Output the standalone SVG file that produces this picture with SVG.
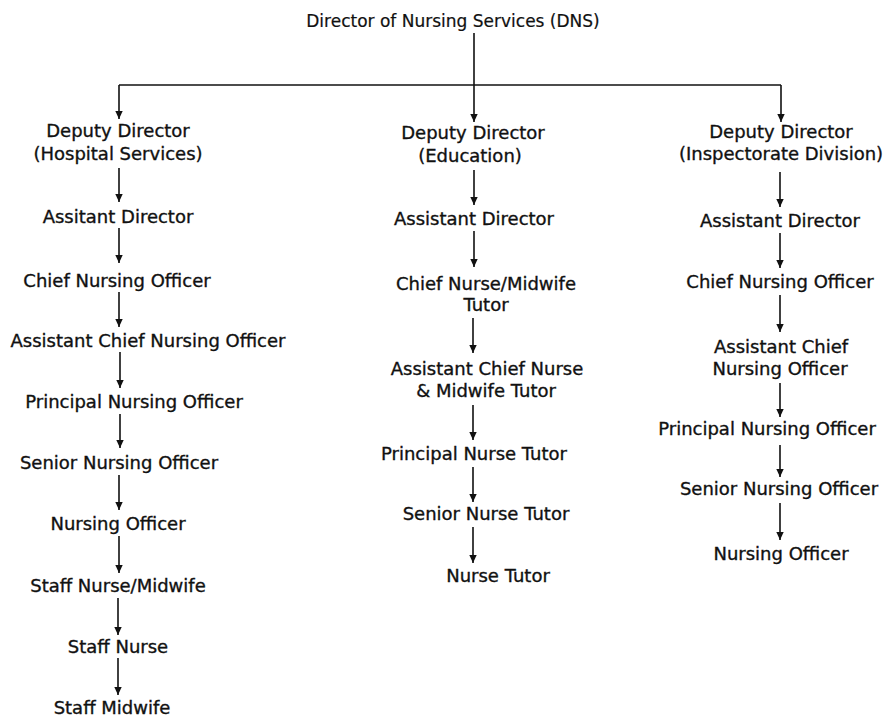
<svg xmlns="http://www.w3.org/2000/svg" width="889" height="720" viewBox="0 0 889 720">
<defs>
<marker id="ah" viewBox="0 0 8 9" refX="8" refY="4.5" markerWidth="8" markerHeight="9" markerUnits="userSpaceOnUse" orient="auto">
<path d="M0,0.8 L8,4.5 L0,8.2 z" fill="#111"/>
</marker>
<style>
text{font-family:"DejaVu Sans","Liberation Sans",sans-serif;font-size:18px;fill:#111;stroke:#111;stroke-width:0.35;text-anchor:middle}
#dns text{font-size:17px;stroke-width:0.2}
.c line{stroke:#111;stroke-width:1.6;fill:none}
.c .a{marker-end:url(#ah)}
</style>
</defs>
<rect width="889" height="720" fill="#fff"/>
<g id="dns"><text x="453" y="27">Director of Nursing Services (DNS)</text></g>

<g id="h-dd"><text x="118" y="137">Deputy Director</text><text x="118" y="160">(Hospital Services)</text></g>
<g id="h-ad"><text x="118" y="223">Assitant Director</text></g>
<g id="h-cno"><text x="117" y="287">Chief Nursing Officer</text></g>
<g id="h-acno"><text x="148" y="347">Assistant Chief Nursing Officer</text></g>
<g id="h-pno"><text x="134" y="408">Principal Nursing Officer</text></g>
<g id="h-sno"><text x="119" y="469">Senior Nursing Officer</text></g>
<g id="h-no"><text x="118" y="530">Nursing Officer</text></g>
<g id="h-snm"><text x="118" y="592">Staff Nurse/Midwife</text></g>
<g id="h-sn"><text x="118" y="653">Staff Nurse</text></g>
<g id="h-sm"><text x="112" y="714">Staff Midwife</text></g>

<g id="e-dd"><text x="473" y="139">Deputy Director</text><text x="470" y="162">(Education)</text></g>
<g id="e-ad"><text x="474" y="225">Assistant Director</text></g>
<g id="e-cnmt"><text x="486" y="290">Chief Nurse/Midwife</text><text x="486" y="311">Tutor</text></g>
<g id="e-acnmt"><text x="487" y="375">Assistant Chief Nurse</text><text x="486" y="397">&amp; Midwife Tutor</text></g>
<g id="e-pnt"><text x="474" y="460">Principal Nurse Tutor</text></g>
<g id="e-snt"><text x="486" y="520">Senior Nurse Tutor</text></g>
<g id="e-nt"><text x="498" y="582">Nurse Tutor</text></g>

<g id="i-dd"><text x="781" y="138">Deputy Director</text><text x="781" y="160">(Inspectorate Division)</text></g>
<g id="i-ad"><text x="780" y="227">Assistant Director</text></g>
<g id="i-cno"><text x="780" y="288">Chief Nursing Officer</text></g>
<g id="i-acno"><text x="781" y="353">Assistant Chief</text><text x="780" y="375">Nursing Officer</text></g>
<g id="i-pno"><text x="767" y="435">Principal Nursing Officer</text></g>
<g id="i-sno"><text x="779" y="495">Senior Nursing Officer</text></g>
<g id="i-no"><text x="781" y="560">Nursing Officer</text></g>

<g id="connectors" class="c">
<line x1="474" y1="33" x2="474" y2="85"/>
<line x1="119" y1="85" x2="781" y2="85"/>
<line class="a" x1="119" y1="85" x2="119" y2="119"/>
<line class="a" x1="474" y1="85" x2="474" y2="122"/>
<line class="a" x1="781" y1="85" x2="781" y2="122"/>

<line class="a" x1="119" y1="168" x2="119" y2="202"/>
<line class="a" x1="119" y1="228" x2="119" y2="263"/>
<line class="a" x1="119" y1="292" x2="119" y2="327"/>
<line class="a" x1="120" y1="352" x2="120" y2="388"/>
<line class="a" x1="120" y1="414" x2="120" y2="448"/>
<line class="a" x1="119" y1="475" x2="119" y2="510"/>
<line class="a" x1="119" y1="536" x2="119" y2="573"/>
<line class="a" x1="118" y1="598" x2="118" y2="635"/>
<line class="a" x1="118" y1="658" x2="118" y2="695"/>

<line class="a" x1="474" y1="170" x2="474" y2="205"/>
<line class="a" x1="474" y1="231" x2="474" y2="267"/>
<line class="a" x1="473" y1="318" x2="473" y2="353"/>
<line class="a" x1="473" y1="405" x2="473" y2="440"/>
<line class="a" x1="473" y1="467" x2="473" y2="502"/>
<line class="a" x1="473" y1="527" x2="473" y2="563"/>

<line class="a" x1="780" y1="172" x2="780" y2="207"/>
<line class="a" x1="780" y1="233" x2="780" y2="268"/>
<line class="a" x1="780" y1="295" x2="780" y2="332"/>
<line class="a" x1="780" y1="383" x2="780" y2="417"/>
<line class="a" x1="780" y1="445" x2="780" y2="477"/>
<line class="a" x1="780" y1="503" x2="780" y2="540"/>
</g>
</svg>
